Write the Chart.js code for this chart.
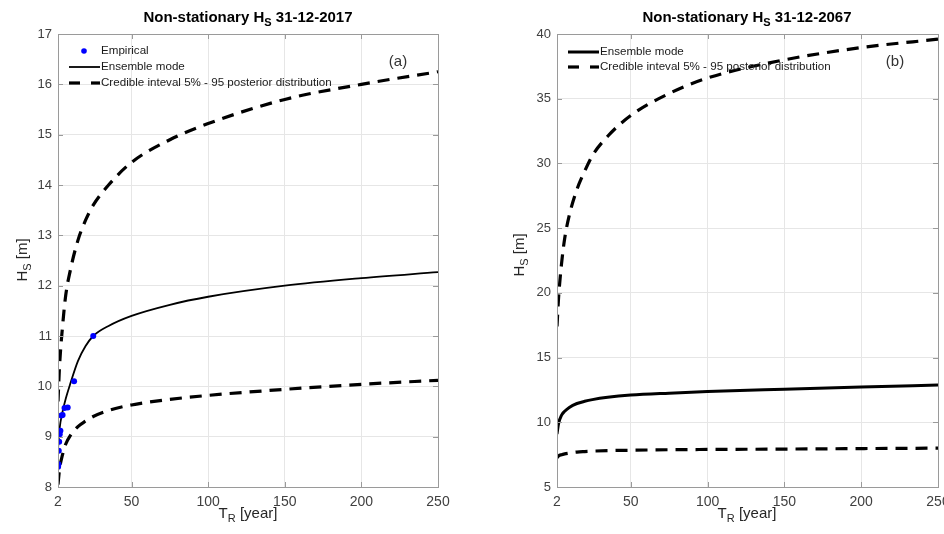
<!DOCTYPE html>
<html>
<head>
<meta charset="utf-8">
<script src="https://cdn.jsdelivr.net/npm/chart.js@4.4.1/dist/chart.umd.min.js"></script>
<style>
  body { margin: 0; width: 944px; height: 534px; overflow: hidden; background: #fff; position: relative;
         font-family: "Liberation Sans", Arial, sans-serif; }
  .pane { position: absolute; top: 0; height: 534px; }
  .ttl { position: absolute; top: 9px; width: 320px; text-align: center; font-weight: bold; font-size: 15px;
         line-height: 16px; color: #000; white-space: nowrap; }
  .xlab { position: absolute; top: 505px; width: 160px; text-align: center; font-size: 15px; line-height: 16px;
          color: #262626; white-space: nowrap; }
  .ylab { position: absolute; width: 100px; text-align: center; font-size: 15px; line-height: 16px; color: #262626;
          white-space: nowrap; transform: rotate(-90deg); }
  sub { font-size: 11px; vertical-align: -4px; line-height: 0; }
</style>
</head>
<body>
<div class="pane" style="left:0;width:470px"><canvas id="chartA" width="470" height="534"></canvas></div>
<div class="pane" style="left:470px;width:490px"><canvas id="chartB" width="490" height="534"></canvas></div>

<div class="ttl" style="left:88px">Non-stationary H<sub>S</sub> 31-12-2017</div>
<div class="ttl" style="left:587px">Non-stationary H<sub>S</sub> 31-12-2067</div>
<div class="xlab" style="left:168px">T<sub>R</sub> [year]</div>
<div class="xlab" style="left:667px">T<sub>R</sub> [year]</div>
<div class="ylab" style="left:-28px;top:252px">H<sub>S</sub> [m]</div>
<div class="ylab" style="left:469px;top:247px">H<sub>S</sub> [m]</div>

<script>
// return periods (x axis, years)
const xTicks = [2, 50, 100, 150, 200, 250];
const periods = [2, 3, 5, 7, 10, 15, 20, 25, 35, 50, 75, 100, 150, 200, 250];

// (a) 31-12-2017
const empiricalT = [25, 12.5, 8.33, 6.25, 5, 4.17, 3.57, 3.13, 2.78, 2.5, 2.27, 2.08];
const empiricalHs = [11.0, 10.1, 9.58, 9.57, 9.43, 9.42, 9.12, 9.05, 8.9, 8.72, 8.45, 8.4];
const modeA = [8.75, 9.15, 9.5, 9.75, 10.05, 10.5, 10.8, 11.0, 11.2, 11.4, 11.62, 11.78, 12.0, 12.15, 12.27];
const upperA = [9.7, 10.4, 11.2, 11.8, 12.3, 12.9, 13.3, 13.6, 14.0, 14.45, 14.9, 15.22, 15.7, 16.0, 16.25];
const lowerA = [8.05, 8.35, 8.65, 8.85, 9.02, 9.2, 9.31, 9.4, 9.52, 9.63, 9.74, 9.82, 9.94, 10.04, 10.12];

// (b) 31-12-2067
const modeB = [9.1, 9.9, 10.55, 10.85, 11.15, 11.45, 11.62, 11.75, 11.93, 12.1, 12.25, 12.37, 12.55, 12.72, 12.88];
const upperB = [17.4, 19.6, 22.3, 24.2, 26.0, 28.0, 29.4, 30.6, 32.1, 33.7, 35.4, 36.6, 38.0, 38.95, 39.6];
const lowerB = [7.25, 7.4, 7.5, 7.56, 7.62, 7.7, 7.74, 7.77, 7.81, 7.84, 7.88, 7.9, 7.93, 7.97, 8.0];

const legendA = ["Empirical", "Ensemble mode", "Credible inteval 5% - 95 posterior distribution"];
const legendB = ["Ensemble mode", "Credible inteval 5% - 95 posterior distribution"];

Chart.defaults.font.family = "'Liberation Sans', Arial, sans-serif";
Chart.defaults.animation = false;

const dash = [12, 8];
const pts = (xs, ys) => xs.map((x, k) => ({ x: x, y: ys[k] }));

// matlab style box with inward ticks
const boxPlugin = {
  id: "box",
  afterDraw(chart) {
    const a = chart.chartArea, ctx = chart.ctx;
    const sx = chart.scales.x, sy = chart.scales.y;
    ctx.save();
    ctx.strokeStyle = "#9a9a9a";
    ctx.lineWidth = 1;
    ctx.strokeRect(a.left + 0.5, a.top + 0.5, a.right - a.left, a.bottom - a.top);
    ctx.beginPath();
    sx.ticks.forEach((t) => {
      const px = Math.round(sx.getPixelForValue(t.value)) + 0.5;
      ctx.moveTo(px, a.bottom); ctx.lineTo(px, a.bottom - 5);
      ctx.moveTo(px, a.top); ctx.lineTo(px, a.top + 5);
    });
    sy.ticks.forEach((t) => {
      const py = Math.round(sy.getPixelForValue(t.value)) + 0.5;
      ctx.moveTo(a.left, py); ctx.lineTo(a.left + 5, py);
      ctx.moveTo(a.right, py); ctx.lineTo(a.right - 5, py);
    });
    ctx.stroke();
    ctx.restore();
  },
};

// legend drawn inside the axes + panel letter
const innerLegend = {
  id: "innerLegend",
  afterDraw(chart, args, o) {
    const ctx = chart.ctx;
    ctx.save();
    ctx.font = "11.6px 'Liberation Sans', Arial, sans-serif";
    ctx.textBaseline = "middle";
    o.items.forEach((it, k) => {
      const y = o.y + k * o.row;
      ctx.strokeStyle = "#000";
      ctx.fillStyle = "#000";
      if (it.kind == "dot") {
        ctx.fillStyle = "#0000ff";
        ctx.beginPath();
        ctx.arc(o.x + 15, y, 2.8, 0, Math.PI * 2);
        ctx.fill();
      } else {
        ctx.lineWidth = it.width;
        ctx.setLineDash(it.kind == "dash" ? [11, 11] : []);
        ctx.beginPath();
        ctx.moveTo(o.x, y);
        ctx.lineTo(o.x + 31, y);
        ctx.stroke();
        ctx.setLineDash([]);
      }
      ctx.fillStyle = "#1a1a1a";
      ctx.fillText(it.label, o.x + 32, y);
    });
    ctx.font = "15px 'Liberation Sans', Arial, sans-serif";
    ctx.fillStyle = "#333";
    ctx.textAlign = "center";
    ctx.fillText(o.tag, o.tagX, o.tagY);
    ctx.restore();
  },
};

function axes(yMin, yMax, yStep, yWidth) {
  return {
    x: {
      type: "linear", min: 2, max: 250,
      afterBuildTicks: (s) => { s.ticks = xTicks.map((v) => ({ value: v })); },
      afterFit: (s) => { s.height = 47; },
      grid: { color: "#e6e6e6", drawTicks: false },
      border: { display: false },
      ticks: { padding: 7, color: "#404040", font: { size: 14 }, maxRotation: 0, autoSkip: false },
    },
    y: {
      min: yMin, max: yMax,
      afterFit: (s) => { s.width = yWidth; },
      grid: { color: "#e6e6e6", drawTicks: false },
      border: { display: false },
      ticks: { stepSize: yStep, padding: 6, color: "#404040", font: { size: 13 } },
    },
  };
}

function line(xs, ys, w, dashed) {
  return {
    data: pts(xs, ys), showLine: true, borderColor: "#000", borderWidth: w,
    borderDash: dashed ? dash : [], pointRadius: 0, cubicInterpolationMode: "monotone", fill: false,
  };
}

new Chart(document.getElementById("chartA"), {
  type: "scatter",
  data: {
    datasets: [
      { data: pts(empiricalT, empiricalHs), pointRadius: 3, pointBackgroundColor: "#0000ff", pointBorderWidth: 0 },
      line(periods, modeA, 1.8, false),
      line(periods, upperA, 3.2, true),
      line(periods, lowerA, 3.2, true),
    ],
  },
  options: {
    responsive: false,
    layout: { padding: { top: 34, right: 32, left: 0, bottom: 0 } },
    scales: axes(8, 17, 1, 58),
    plugins: {
      legend: { display: false }, tooltip: { enabled: false },
      innerLegend: {
        x: 69, y: 51, row: 16, tag: "(a)", tagX: 398, tagY: 62,
        items: [
          { label: legendA[0], kind: "dot" },
          { label: legendA[1], kind: "solid", width: 1.8 },
          { label: legendA[2], kind: "dash", width: 3.2 },
        ],
      },
    },
  },
  plugins: [boxPlugin, innerLegend],
});

new Chart(document.getElementById("chartB"), {
  type: "scatter",
  data: {
    datasets: [
      line(periods, modeB, 3, false),
      line(periods, upperB, 3.2, true),
      line(periods, lowerB, 3.2, true),
    ],
  },
  options: {
    responsive: false,
    layout: { padding: { top: 34, right: 22, left: 0, bottom: 0 } },
    scales: axes(5, 40, 5, 87),
    plugins: {
      legend: { display: false }, tooltip: { enabled: false },
      innerLegend: {
        x: 98, y: 52, row: 15, tag: "(b)", tagX: 425, tagY: 62,
        items: [
          { label: legendB[0], kind: "solid", width: 3 },
          { label: legendB[1], kind: "dash", width: 3.2 },
        ],
      },
    },
  },
  plugins: [boxPlugin, innerLegend],
});
</script>
</body>
</html>
